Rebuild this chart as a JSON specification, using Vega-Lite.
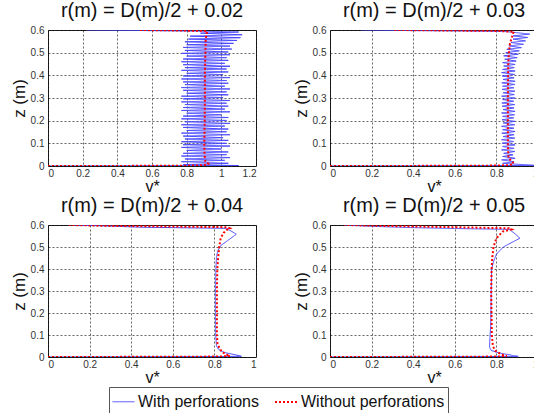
{
  "$schema": "https://vega.github.io/schema/vega-lite/v6.json",
  "padding": {"left": 9, "top": 0, "right": 0, "bottom": 0},
  "background": "white",
  "datasets": {
    "names": [{"s": "w", "series": "With perforations"}, {"s": "o", "series": "Without perforations"}],
    "curves": [
      {"p":1,"s":"w","z":0,"v":0},{"p":1,"s":"w","z":0.001,"v":0.5},{"p":1,"s":"w","z":0.002,"v":1.1},{"p":1,"s":"w","z":0.004,"v":0.95},
      {"p":1,"s":"w","z":0.006,"v":0.78},{"p":1,"s":"w","z":0.012,"v":1.04},
      {"p":1,"s":"w","z":0.019,"v":0.77},{"p":1,"s":"w","z":0.025,"v":1.02},
      {"p":1,"s":"w","z":0.031,"v":0.79},{"p":1,"s":"w","z":0.037,"v":1.05},
      {"p":1,"s":"w","z":0.044,"v":0.77},{"p":1,"s":"w","z":0.050,"v":1.03},
      {"p":1,"s":"w","z":0.056,"v":0.78},{"p":1,"s":"w","z":0.062,"v":1.04},
      {"p":1,"s":"w","z":0.069,"v":0.80},{"p":1,"s":"w","z":0.075,"v":1.00},
      {"p":1,"s":"w","z":0.082,"v":0.77},{"p":1,"s":"w","z":0.088,"v":1.05},
      {"p":1,"s":"w","z":0.094,"v":0.78},{"p":1,"s":"w","z":0.100,"v":1.03},
      {"p":1,"s":"w","z":0.107,"v":0.77},{"p":1,"s":"w","z":0.113,"v":1.04},
      {"p":1,"s":"w","z":0.119,"v":0.79},{"p":1,"s":"w","z":0.125,"v":1.01},
      {"p":1,"s":"w","z":0.132,"v":0.78},{"p":1,"s":"w","z":0.138,"v":1.05},
      {"p":1,"s":"w","z":0.145,"v":0.77},{"p":1,"s":"w","z":0.151,"v":1.03},
      {"p":1,"s":"w","z":0.157,"v":0.80},{"p":1,"s":"w","z":0.163,"v":1.04},
      {"p":1,"s":"w","z":0.170,"v":0.78},{"p":1,"s":"w","z":0.176,"v":1.02},
      {"p":1,"s":"w","z":0.182,"v":0.77},{"p":1,"s":"w","z":0.188,"v":1.05},
      {"p":1,"s":"w","z":0.195,"v":0.79},{"p":1,"s":"w","z":0.201,"v":1.03},
      {"p":1,"s":"w","z":0.208,"v":0.77},{"p":1,"s":"w","z":0.214,"v":1.04},
      {"p":1,"s":"w","z":0.220,"v":0.78},{"p":1,"s":"w","z":0.226,"v":1.00},
      {"p":1,"s":"w","z":0.233,"v":0.80},{"p":1,"s":"w","z":0.239,"v":1.05},
      {"p":1,"s":"w","z":0.245,"v":0.77},{"p":1,"s":"w","z":0.251,"v":1.02},
      {"p":1,"s":"w","z":0.258,"v":0.78},{"p":1,"s":"w","z":0.264,"v":1.04},
      {"p":1,"s":"w","z":0.271,"v":0.79},{"p":1,"s":"w","z":0.277,"v":1.03},
      {"p":1,"s":"w","z":0.283,"v":0.77},{"p":1,"s":"w","z":0.289,"v":1.05},
      {"p":1,"s":"w","z":0.296,"v":0.78},{"p":1,"s":"w","z":0.302,"v":1.01},
      {"p":1,"s":"w","z":0.308,"v":0.77},{"p":1,"s":"w","z":0.314,"v":1.04},
      {"p":1,"s":"w","z":0.321,"v":0.80},{"p":1,"s":"w","z":0.327,"v":1.03},
      {"p":1,"s":"w","z":0.334,"v":0.78},{"p":1,"s":"w","z":0.340,"v":1.05},
      {"p":1,"s":"w","z":0.346,"v":0.77},{"p":1,"s":"w","z":0.352,"v":1.02},
      {"p":1,"s":"w","z":0.359,"v":0.79},{"p":1,"s":"w","z":0.365,"v":1.04},
      {"p":1,"s":"w","z":0.371,"v":0.78},{"p":1,"s":"w","z":0.377,"v":1.03},
      {"p":1,"s":"w","z":0.384,"v":0.77},{"p":1,"s":"w","z":0.390,"v":1.05},
      {"p":1,"s":"w","z":0.397,"v":0.78},{"p":1,"s":"w","z":0.403,"v":1.01},
      {"p":1,"s":"w","z":0.409,"v":0.80},{"p":1,"s":"w","z":0.415,"v":1.04},
      {"p":1,"s":"w","z":0.422,"v":0.77},{"p":1,"s":"w","z":0.428,"v":1.03},
      {"p":1,"s":"w","z":0.434,"v":0.79},{"p":1,"s":"w","z":0.440,"v":1.05},
      {"p":1,"s":"w","z":0.447,"v":0.78},{"p":1,"s":"w","z":0.453,"v":1.02},
      {"p":1,"s":"w","z":0.460,"v":0.77},{"p":1,"s":"w","z":0.466,"v":1.04},
      {"p":1,"s":"w","z":0.472,"v":0.78},{"p":1,"s":"w","z":0.478,"v":1.03},
      {"p":1,"s":"w","z":0.485,"v":0.80},{"p":1,"s":"w","z":0.491,"v":1.05},
      {"p":1,"s":"w","z":0.497,"v":0.77},{"p":1,"s":"w","z":0.503,"v":1.04},
      {"p":1,"s":"w","z":0.510,"v":0.79},{"p":1,"s":"w","z":0.516,"v":1.06},
      {"p":1,"s":"w","z":0.523,"v":0.78},{"p":1,"s":"w","z":0.529,"v":1.05},
      {"p":1,"s":"w","z":0.535,"v":0.80},{"p":1,"s":"w","z":0.541,"v":1.07},
      {"p":1,"s":"w","z":0.548,"v":0.79},{"p":1,"s":"w","z":0.554,"v":1.09},
      {"p":1,"s":"w","z":0.560,"v":0.81},{"p":1,"s":"w","z":0.566,"v":1.11},
      {"p":1,"s":"w","z":0.573,"v":0.82},{"p":1,"s":"w","z":0.579,"v":1.12},
      {"p":1,"s":"w","z":0.586,"v":0.88},{"p":1,"s":"w","z":0.591,"v":1.1},{"p":1,"s":"w","z":0.595,"v":0.85},{"p":1,"s":"w","z":0.598,"v":0.5},{"p":1,"s":"w","z":0.6,"v":0.22},

      {"p":1,"s":"o","z":0,"v":0},{"p":1,"s":"o","z":0.0003,"v":0.35},{"p":1,"s":"o","z":0.0008,"v":0.6},{"p":1,"s":"o","z":0.0015,"v":0.8},
      {"p":1,"s":"o","z":0.003,"v":0.88},{"p":1,"s":"o","z":0.006,"v":0.915},{"p":1,"s":"o","z":0.01,"v":0.925},{"p":1,"s":"o","z":0.02,"v":0.908},
      {"p":1,"s":"o","z":0.05,"v":0.903},{"p":1,"s":"o","z":0.1,"v":0.902},{"p":1,"s":"o","z":0.2,"v":0.904},{"p":1,"s":"o","z":0.3,"v":0.905},
      {"p":1,"s":"o","z":0.4,"v":0.905},{"p":1,"s":"o","z":0.5,"v":0.908},{"p":1,"s":"o","z":0.56,"v":0.91},{"p":1,"s":"o","z":0.585,"v":0.915},
      {"p":1,"s":"o","z":0.592,"v":0.92},{"p":1,"s":"o","z":0.596,"v":0.9},{"p":1,"s":"o","z":0.598,"v":0.75},{"p":1,"s":"o","z":0.6,"v":0.52},

      {"p":2,"s":"w","z":0,"v":0},{"p":2,"s":"w","z":0.001,"v":0.5},{"p":2,"s":"w","z":0.002,"v":0.85},{"p":2,"s":"w","z":0.003,"v":0.98},{"p":2,"s":"w","z":0.006,"v":0.93},
      {"p":2,"s":"w","z":0.012,"v":0.83},{"p":2,"s":"w","z":0.019,"v":0.885},
      {"p":2,"s":"w","z":0.027,"v":0.825},{"p":2,"s":"w","z":0.034,"v":0.89},
      {"p":2,"s":"w","z":0.042,"v":0.83},{"p":2,"s":"w","z":0.049,"v":0.88},
      {"p":2,"s":"w","z":0.056,"v":0.835},{"p":2,"s":"w","z":0.064,"v":0.888},
      {"p":2,"s":"w","z":0.071,"v":0.825},{"p":2,"s":"w","z":0.078,"v":0.885},
      {"p":2,"s":"w","z":0.086,"v":0.83},{"p":2,"s":"w","z":0.093,"v":0.89},
      {"p":2,"s":"w","z":0.101,"v":0.828},{"p":2,"s":"w","z":0.108,"v":0.882},
      {"p":2,"s":"w","z":0.116,"v":0.825},{"p":2,"s":"w","z":0.123,"v":0.888},
      {"p":2,"s":"w","z":0.130,"v":0.832},{"p":2,"s":"w","z":0.138,"v":0.885},
      {"p":2,"s":"w","z":0.145,"v":0.826},{"p":2,"s":"w","z":0.152,"v":0.89},
      {"p":2,"s":"w","z":0.160,"v":0.83},{"p":2,"s":"w","z":0.167,"v":0.884},
      {"p":2,"s":"w","z":0.175,"v":0.825},{"p":2,"s":"w","z":0.182,"v":0.888},
      {"p":2,"s":"w","z":0.190,"v":0.833},{"p":2,"s":"w","z":0.197,"v":0.89},
      {"p":2,"s":"w","z":0.204,"v":0.827},{"p":2,"s":"w","z":0.212,"v":0.883},
      {"p":2,"s":"w","z":0.219,"v":0.83},{"p":2,"s":"w","z":0.226,"v":0.887},
      {"p":2,"s":"w","z":0.234,"v":0.825},{"p":2,"s":"w","z":0.241,"v":0.89},
      {"p":2,"s":"w","z":0.249,"v":0.832},{"p":2,"s":"w","z":0.256,"v":0.885},
      {"p":2,"s":"w","z":0.264,"v":0.828},{"p":2,"s":"w","z":0.271,"v":0.888},
      {"p":2,"s":"w","z":0.278,"v":0.826},{"p":2,"s":"w","z":0.286,"v":0.883},
      {"p":2,"s":"w","z":0.293,"v":0.83},{"p":2,"s":"w","z":0.300,"v":0.89},
      {"p":2,"s":"w","z":0.308,"v":0.825},{"p":2,"s":"w","z":0.315,"v":0.886},
      {"p":2,"s":"w","z":0.323,"v":0.833},{"p":2,"s":"w","z":0.330,"v":0.889},
      {"p":2,"s":"w","z":0.338,"v":0.827},{"p":2,"s":"w","z":0.345,"v":0.884},
      {"p":2,"s":"w","z":0.352,"v":0.83},{"p":2,"s":"w","z":0.360,"v":0.888},
      {"p":2,"s":"w","z":0.367,"v":0.826},{"p":2,"s":"w","z":0.374,"v":0.89},
      {"p":2,"s":"w","z":0.382,"v":0.832},{"p":2,"s":"w","z":0.389,"v":0.885},
      {"p":2,"s":"w","z":0.397,"v":0.828},{"p":2,"s":"w","z":0.404,"v":0.887},
      {"p":2,"s":"w","z":0.412,"v":0.825},{"p":2,"s":"w","z":0.419,"v":0.89},
      {"p":2,"s":"w","z":0.426,"v":0.83},{"p":2,"s":"w","z":0.434,"v":0.886},
      {"p":2,"s":"w","z":0.441,"v":0.835},{"p":2,"s":"w","z":0.448,"v":0.89},
      {"p":2,"s":"w","z":0.456,"v":0.83},{"p":2,"s":"w","z":0.463,"v":0.895},
      {"p":2,"s":"w","z":0.471,"v":0.84},{"p":2,"s":"w","z":0.478,"v":0.9},
      {"p":2,"s":"w","z":0.486,"v":0.835},{"p":2,"s":"w","z":0.493,"v":0.905},
      {"p":2,"s":"w","z":0.500,"v":0.845},{"p":2,"s":"w","z":0.508,"v":0.91},
      {"p":2,"s":"w","z":0.515,"v":0.85},{"p":2,"s":"w","z":0.522,"v":0.92},
      {"p":2,"s":"w","z":0.530,"v":0.86},{"p":2,"s":"w","z":0.537,"v":0.93},
      {"p":2,"s":"w","z":0.545,"v":0.87},{"p":2,"s":"w","z":0.552,"v":0.94},
      {"p":2,"s":"w","z":0.560,"v":0.88},{"p":2,"s":"w","z":0.567,"v":0.95},
      {"p":2,"s":"w","z":0.574,"v":0.88},{"p":2,"s":"w","z":0.582,"v":0.96},
      {"p":2,"s":"w","z":0.588,"v":0.9},{"p":2,"s":"w","z":0.593,"v":0.85},{"p":2,"s":"w","z":0.596,"v":0.6},{"p":2,"s":"w","z":0.598,"v":0.35},{"p":2,"s":"w","z":0.6,"v":0.15},

      {"p":2,"s":"o","z":0,"v":0},{"p":2,"s":"o","z":0.0005,"v":0.4},{"p":2,"s":"o","z":0.0015,"v":0.75},{"p":2,"s":"o","z":0.003,"v":0.85},
      {"p":2,"s":"o","z":0.007,"v":0.88},{"p":2,"s":"o","z":0.015,"v":0.88},{"p":2,"s":"o","z":0.025,"v":0.868},{"p":2,"s":"o","z":0.04,"v":0.858},
      {"p":2,"s":"o","z":0.1,"v":0.855},{"p":2,"s":"o","z":0.3,"v":0.855},{"p":2,"s":"o","z":0.45,"v":0.857},{"p":2,"s":"o","z":0.5,"v":0.86},
      {"p":2,"s":"o","z":0.54,"v":0.865},{"p":2,"s":"o","z":0.57,"v":0.875},{"p":2,"s":"o","z":0.585,"v":0.88},{"p":2,"s":"o","z":0.592,"v":0.885},
      {"p":2,"s":"o","z":0.596,"v":0.8},{"p":2,"s":"o","z":0.598,"v":0.55},{"p":2,"s":"o","z":0.6,"v":0.3},

      {"p":3,"s":"w","z":0,"v":0},{"p":3,"s":"w","z":0.001,"v":0.4},{"p":3,"s":"w","z":0.002,"v":0.75},{"p":3,"s":"w","z":0.003,"v":0.93},
      {"p":3,"s":"w","z":0.006,"v":0.92},{"p":3,"s":"w","z":0.012,"v":0.89},{"p":3,"s":"w","z":0.018,"v":0.86},{"p":3,"s":"w","z":0.025,"v":0.835},
      {"p":3,"s":"w","z":0.035,"v":0.82},{"p":3,"s":"w","z":0.05,"v":0.81},{"p":3,"s":"w","z":0.1,"v":0.806},{"p":3,"s":"w","z":0.2,"v":0.805},
      {"p":3,"s":"w","z":0.3,"v":0.805},{"p":3,"s":"w","z":0.4,"v":0.807},{"p":3,"s":"w","z":0.45,"v":0.81},{"p":3,"s":"w","z":0.48,"v":0.815},
      {"p":3,"s":"w","z":0.506,"v":0.83},{"p":3,"s":"w","z":0.53,"v":0.865},{"p":3,"s":"w","z":0.558,"v":0.905},{"p":3,"s":"w","z":0.57,"v":0.885},
      {"p":3,"s":"w","z":0.585,"v":0.857},{"p":3,"s":"w","z":0.588,"v":0.6},{"p":3,"s":"w","z":0.59,"v":0.45},{"p":3,"s":"w","z":0.595,"v":0.3},{"p":3,"s":"w","z":0.6,"v":0.12},

      {"p":3,"s":"o","z":0,"v":0},{"p":3,"s":"o","z":0.0005,"v":0.3},{"p":3,"s":"o","z":0.001,"v":0.6},{"p":3,"s":"o","z":0.002,"v":0.82},
      {"p":3,"s":"o","z":0.004,"v":0.875},{"p":3,"s":"o","z":0.008,"v":0.865},{"p":3,"s":"o","z":0.015,"v":0.85},{"p":3,"s":"o","z":0.025,"v":0.835},
      {"p":3,"s":"o","z":0.04,"v":0.825},{"p":3,"s":"o","z":0.06,"v":0.815},{"p":3,"s":"o","z":0.1,"v":0.812},{"p":3,"s":"o","z":0.3,"v":0.812},
      {"p":3,"s":"o","z":0.4,"v":0.814},{"p":3,"s":"o","z":0.45,"v":0.818},{"p":3,"s":"o","z":0.5,"v":0.823},{"p":3,"s":"o","z":0.54,"v":0.83},
      {"p":3,"s":"o","z":0.565,"v":0.845},{"p":3,"s":"o","z":0.578,"v":0.86},{"p":3,"s":"o","z":0.585,"v":0.875},{"p":3,"s":"o","z":0.59,"v":0.86},
      {"p":3,"s":"o","z":0.593,"v":0.6},{"p":3,"s":"o","z":0.596,"v":0.3},{"p":3,"s":"o","z":0.6,"v":0.1},

      {"p":4,"s":"w","z":0,"v":0},{"p":4,"s":"w","z":0.001,"v":0.4},{"p":4,"s":"w","z":0.002,"v":0.75},{"p":4,"s":"w","z":0.003,"v":0.905},
      {"p":4,"s":"w","z":0.006,"v":0.88},{"p":4,"s":"w","z":0.01,"v":0.865},{"p":4,"s":"w","z":0.015,"v":0.83},{"p":4,"s":"w","z":0.022,"v":0.8},
      {"p":4,"s":"w","z":0.03,"v":0.775},{"p":4,"s":"w","z":0.045,"v":0.767},{"p":4,"s":"w","z":0.07,"v":0.768},{"p":4,"s":"w","z":0.15,"v":0.773},
      {"p":4,"s":"w","z":0.3,"v":0.775},{"p":4,"s":"w","z":0.4,"v":0.777},{"p":4,"s":"w","z":0.43,"v":0.785},{"p":4,"s":"w","z":0.467,"v":0.8},
      {"p":4,"s":"w","z":0.5,"v":0.833},{"p":4,"s":"w","z":0.54,"v":0.913},{"p":4,"s":"w","z":0.56,"v":0.89},{"p":4,"s":"w","z":0.58,"v":0.862},
      {"p":4,"s":"w","z":0.584,"v":0.6},{"p":4,"s":"w","z":0.588,"v":0.4},{"p":4,"s":"w","z":0.594,"v":0.2},{"p":4,"s":"w","z":0.6,"v":0.07},

      {"p":4,"s":"o","z":0,"v":0},{"p":4,"s":"o","z":0.0005,"v":0.3},{"p":4,"s":"o","z":0.001,"v":0.6},{"p":4,"s":"o","z":0.002,"v":0.8},
      {"p":4,"s":"o","z":0.004,"v":0.85},{"p":4,"s":"o","z":0.008,"v":0.835},{"p":4,"s":"o","z":0.014,"v":0.82},{"p":4,"s":"o","z":0.022,"v":0.805},
      {"p":4,"s":"o","z":0.03,"v":0.793},{"p":4,"s":"o","z":0.05,"v":0.783},{"p":4,"s":"o","z":0.1,"v":0.778},{"p":4,"s":"o","z":0.3,"v":0.775},
      {"p":4,"s":"o","z":0.4,"v":0.777},{"p":4,"s":"o","z":0.45,"v":0.78},{"p":4,"s":"o","z":0.5,"v":0.786},{"p":4,"s":"o","z":0.54,"v":0.8},
      {"p":4,"s":"o","z":0.57,"v":0.83},{"p":4,"s":"o","z":0.58,"v":0.873},{"p":4,"s":"o","z":0.585,"v":0.86},{"p":4,"s":"o","z":0.59,"v":0.6},
      {"p":4,"s":"o","z":0.595,"v":0.3},{"p":4,"s":"o","z":0.6,"v":0.07}
    ]
  },
  "data": {"name": "curves"},
  "spacing": 0,
  "vconcat": [
    {
      "spacing": 34,
      "hconcat": [
        {
          "width": 208, "height": 136,
          "title": "r(m) = D(m)/2 + 0.02",
          "transform": [{"filter": "datum.p == 1"}, {"lookup": "s", "from": {"data": {"name": "names"}, "key": "s", "fields": ["series"]}}],
          "mark": {"type": "line", "clip": true},
          "encoding": {
            "x": {"field": "v", "type": "quantitative", "scale": {"domain": [0, 1.2], "nice": false}, "axis": {"values": [0, 0.2, 0.4, 0.6, 0.8, 1, 1.2], "format": "~g", "title": "v*"}},
            "y": {"field": "z", "type": "quantitative", "scale": {"domain": [0, 0.6], "nice": false}, "axis": {"values": [0, 0.1, 0.2, 0.3, 0.4, 0.5, 0.6], "format": "~g", "title": "z (m)"}},
            "color": {"field": "series", "type": "nominal", "scale": {"domain": ["With perforations", "Without perforations"], "range": ["#4646ff", "#ff0000"]}, "legend": {"orient": "none", "legendX": 61, "legendY": 357, "direction": "horizontal", "title": null}},
            "strokeDash": {"field": "series", "type": "nominal", "scale": {"domain": ["With perforations", "Without perforations"], "range": [[1, 0], [2, 2]]}, "legend": {"orient": "none", "legendX": 61, "legendY": 357, "direction": "horizontal", "title": null}},
            "strokeWidth": {"field": "series", "type": "ordinal", "scale": {"domain": ["With perforations", "Without perforations"], "range": [1, 2]}, "legend": null},
            "order": {"field": "z", "type": "quantitative"}
          }
        },
        {
          "width": 208, "height": 136,
          "title": "r(m) = D(m)/2 + 0.03",
          "transform": [{"filter": "datum.p == 2"}, {"lookup": "s", "from": {"data": {"name": "names"}, "key": "s", "fields": ["series"]}}],
          "mark": {"type": "line", "clip": true},
          "encoding": {
            "x": {"field": "v", "type": "quantitative", "scale": {"domain": [0, 1], "nice": false}, "axis": {"values": [0, 0.2, 0.4, 0.6, 0.8, 1], "format": "~g", "title": "v*"}},
            "y": {"field": "z", "type": "quantitative", "scale": {"domain": [0, 0.6], "nice": false}, "axis": {"values": [0, 0.1, 0.2, 0.3, 0.4, 0.5, 0.6], "format": "~g", "title": "z (m)"}},
            "color": {"field": "series", "type": "nominal", "scale": {"domain": ["With perforations", "Without perforations"], "range": ["#4646ff", "#ff0000"]}, "legend": {"orient": "none", "legendX": 61, "legendY": 357, "direction": "horizontal", "title": null}},
            "strokeDash": {"field": "series", "type": "nominal", "scale": {"domain": ["With perforations", "Without perforations"], "range": [[1, 0], [2, 2]]}, "legend": {"orient": "none", "legendX": 61, "legendY": 357, "direction": "horizontal", "title": null}},
            "strokeWidth": {"field": "series", "type": "ordinal", "scale": {"domain": ["With perforations", "Without perforations"], "range": [1, 2]}, "legend": null},
            "order": {"field": "z", "type": "quantitative"}
          }
        }
      ]
    },
    {
      "spacing": 34,
      "hconcat": [
        {
          "width": 208, "height": 132,
          "title": "r(m) = D(m)/2 + 0.04",
          "transform": [{"filter": "datum.p == 3"}, {"lookup": "s", "from": {"data": {"name": "names"}, "key": "s", "fields": ["series"]}}],
          "mark": {"type": "line", "clip": true},
          "encoding": {
            "x": {"field": "v", "type": "quantitative", "scale": {"domain": [0, 1], "nice": false}, "axis": {"values": [0, 0.2, 0.4, 0.6, 0.8, 1], "format": "~g", "title": "v*"}},
            "y": {"field": "z", "type": "quantitative", "scale": {"domain": [0, 0.6], "nice": false}, "axis": {"values": [0, 0.1, 0.2, 0.3, 0.4, 0.5, 0.6], "format": "~g", "title": "z (m)"}},
            "color": {"field": "series", "type": "nominal", "scale": {"domain": ["With perforations", "Without perforations"], "range": ["#4646ff", "#ff0000"]}, "legend": {"orient": "none", "legendX": 61, "legendY": 357, "direction": "horizontal", "title": null}},
            "strokeDash": {"field": "series", "type": "nominal", "scale": {"domain": ["With perforations", "Without perforations"], "range": [[1, 0], [2, 2]]}, "legend": {"orient": "none", "legendX": 61, "legendY": 357, "direction": "horizontal", "title": null}},
            "strokeWidth": {"field": "series", "type": "ordinal", "scale": {"domain": ["With perforations", "Without perforations"], "range": [1, 2]}, "legend": null},
            "order": {"field": "z", "type": "quantitative"}
          }
        },
        {
          "width": 208, "height": 132,
          "title": "r(m) = D(m)/2 + 0.05",
          "transform": [{"filter": "datum.p == 4"}, {"lookup": "s", "from": {"data": {"name": "names"}, "key": "s", "fields": ["series"]}}],
          "mark": {"type": "line", "clip": true},
          "encoding": {
            "x": {"field": "v", "type": "quantitative", "scale": {"domain": [0, 1], "nice": false}, "axis": {"values": [0, 0.2, 0.4, 0.6, 0.8, 1], "format": "~g", "title": "v*"}},
            "y": {"field": "z", "type": "quantitative", "scale": {"domain": [0, 0.6], "nice": false}, "axis": {"values": [0, 0.1, 0.2, 0.3, 0.4, 0.5, 0.6], "format": "~g", "title": "z (m)"}},
            "color": {"field": "series", "type": "nominal", "scale": {"domain": ["With perforations", "Without perforations"], "range": ["#4646ff", "#ff0000"]}, "legend": {"orient": "none", "legendX": 61, "legendY": 357, "direction": "horizontal", "title": null}},
            "strokeDash": {"field": "series", "type": "nominal", "scale": {"domain": ["With perforations", "Without perforations"], "range": [[1, 0], [2, 2]]}, "legend": {"orient": "none", "legendX": 61, "legendY": 357, "direction": "horizontal", "title": null}},
            "strokeWidth": {"field": "series", "type": "ordinal", "scale": {"domain": ["With perforations", "Without perforations"], "range": [1, 2]}, "legend": null},
            "order": {"field": "z", "type": "quantitative"}
          }
        }
      ]
    }
  ],
  "config": {
    "font": "Liberation Sans",
    "view": {"stroke": "#222", "strokeWidth": 1},
    "axis": {
      "grid": true, "gridColor": "#000", "gridDash": [2, 2], "gridOpacity": 0.75, "gridWidth": 0.8,
      "ticks": false, "domain": false,
      "labelFont": "Liberation Sans", "labelFontSize": 10, "labelColor": "#333", "labelPadding": 4,
      "titleFont": "Liberation Sans", "titleFontSize": 17, "titleFontWeight": "normal", "titleColor": "#111", "titlePadding": 2
    },
    "axisX": {"labelPadding": 2, "titlePadding": 0, "titleFontSize": 16},
    "title": {"font": "Liberation Sans", "fontSize": 20, "fontWeight": "normal", "color": "#111", "offset": 0},
    "legend": {
      "strokeColor": "#555", "fillColor": "#fff", "padding": 3,
      "labelFont": "Liberation Sans", "labelFontSize": 16, "labelColor": "#111", "labelLimit": 300, "labelOffset": 3,
      "symbolType": "stroke", "symbolSize": 484, "symbolStrokeWidth": 1.5, "columnPadding": 12
    }
  }
}
